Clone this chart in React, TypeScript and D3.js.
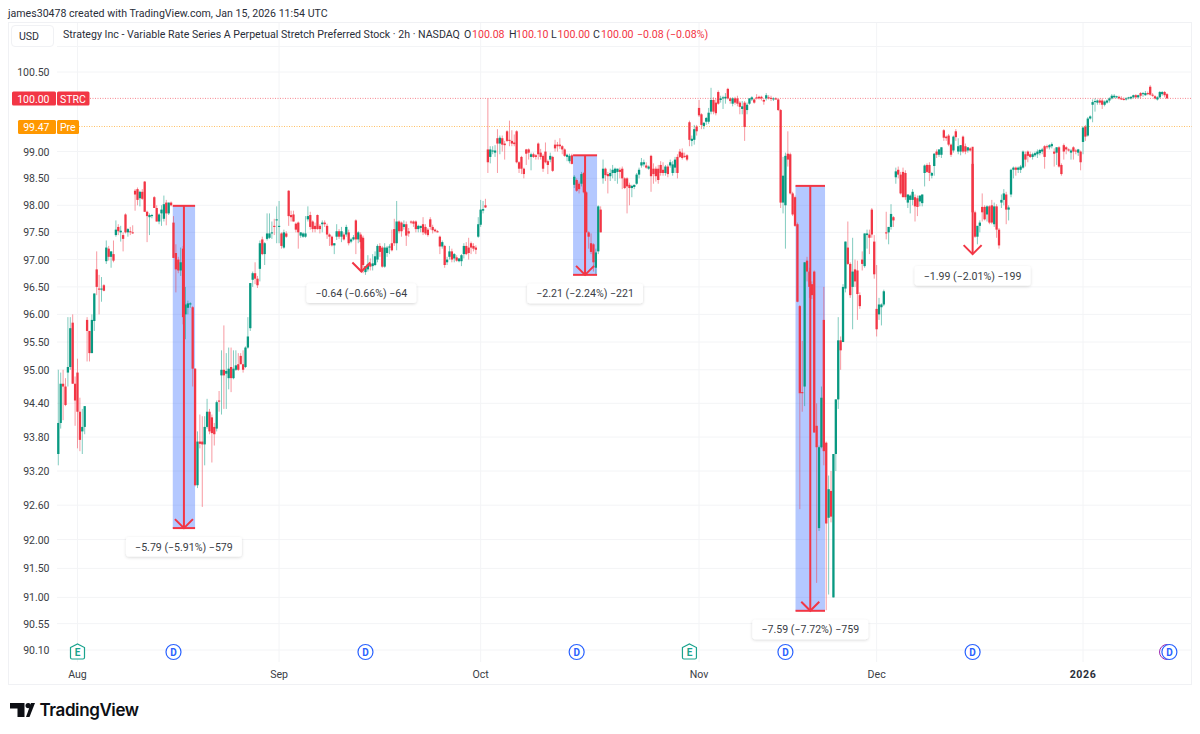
import React from 'react'
import * as d3 from 'd3'

// rows: [bar slot, open, high, low, close] - 2h bars
const augBars = [
  [0,93.5,95,93.3,94.05],[1,94.05,94.95,93.95,94.75],[2,94.75,95,94.1,94.7],[3,94.7,94.85,94.35,94.37],[4,94.95,95.95,94.7,95.05],[5,95.05,95.95,95,95.75],[6,95.85,96,94.75,94.75],[7,94.75,94.88,94,94.45],[8,94.95,95.2,93.6,94.25],[9,94.25,94.5,93.55,93.75],[10,93.9,94.3,93.5,93.98],[11,93.98,94.35,93.85,94.35],
  [12,95.9,95.95,95.15,95.7],[13,95.7,95.7,95.15,95.3],[14,95.3,96,95.3,95.9],[15,95.88,96.38,95.7,96.38],[16,96.82,97.15,96.35,96.5],[17,96.47,96.72,96,96.45],[18,96.45,96.68,96.23,96.47],[19,96.53,96.55,96.42,96.43],[20,96.97,97.35,96.92,97.22],[21,97.2,97.25,96.98,97.05],[22,97.05,97.15,96.85,97.15],[23,97.1,97.35,96.95,96.98],
  [24,97.45,97.72,97.42,97.55],[25,97.6,97.65,97.45,97.52],[26,97.5,97.62,97.33,97.53],[27,97.45,97.5,97.15,97.38],[28,97.83,97.85,97.48,97.5],[29,97.5,97.58,97.42,97.56],[30,97.52,97.6,97.45,97.5],[31,97.5,97.63,97.47,97.49],[32,98.27,98.3,97.9,98.2],[33,98.3,98.33,98,98.1],[34,98.13,98.27,97.98,98.25],[35,98.25,98.3,98.1,98.12],
  [36,98.44,98.45,97.88,97.88],[37,97.88,97.9,97.32,97.8],[38,97.78,97.85,97.45,97.82],[39,97.8,97.84,97.76,97.82],[40,98.15,98.17,97.95,97.95],[41,97.95,98,97.7,97.7],[42,97.7,97.85,97.65,97.83],[43,97.85,98,97.62,97.92],[44,97.75,98.18,97.7,98.02],[45,98.05,98.1,97.63,97.85],[46,97.85,98.05,97.82,98.05],[47,98.05,98.07,97.98,98],
  [48,97.68,97.8,97.03,97.03],[49,97.12,97.28,96.4,96.82],[50,97,97.05,96.75,96.8],[51,96.8,97.22,96.7,96.95],[52,97.2,97.25,95.82,95.95],[53,96,96.5,95.55,96.18],[54,96.12,96.25,96,96.2],[55,96.18,96.22,96.12,96.2],[56,96.13,96.15,94.7,95.02],[57,95.02,95.03,92.93,92.95],[58,92.95,93.9,92.9,93.72],[59,93.72,94.2,93.6,93.68],[60,93.72,94.17,92.57,93.67],
  [61,93.67,94.17,93.3,93.98],[62,93.98,94.48,93.95,94.25],[63,94.25,94.3,93.85,93.9],[64,94.15,94.2,93.35,93.87],[65,93.98,94.05,93.65,93.85],[66,93.95,94.45,93.9,94.42],[67,94.45,94.62,94.25,94.43],[68,94.9,95.35,94.2,95],[69,95,95.8,94.3,94.9],[70,94.93,95.3,94.3,94.98],[71,94.85,95.4,94.65,95.02],[72,95.05,95.4,94.6,94.85],
  [73,94.85,95.35,94.83,95.02],[74,95,95.35,94.98,95.08],[75,95.1,95.3,94.98,95],[76,95.25,95.3,95.1,95.1],[77,95.1,95.35,94.95,95],[78,95.05,95.42,95.03,95.4],[79,95.4,95.95,95.38,95.6],[80,95.75,96.57,95.7,96.57],[81,96.63,96.78,96.5,96.75],[82,96.75,96.95,96.55,96.65],[83,96.65,96.7,96.48,96.53],
  [84,96.83,97.35,96.6,97.3],[85,97.37,97.42,97.08,97.1],[86,97.1,97.32,96.9,97.3],[87,97.38,97.85,97.35,97.48],[88,97.4,97.85,97.38,97.48],[89,97.48,97.7,97.38,97.5],[90,97.62,97.75,97.45,97.6],[91,97.72,97.98,97.3,97.74],
]
const sepBars = [
  [92,97.6,98.08,97.3,97.62],[93,97.48,97.5,97.2,97.25],[94,97.22,97.55,97.2,97.5],[95,97.48,97.52,97.4,97.42],[96,98.27,98.28,97.62,97.8],[97,97.82,97.9,97.7,97.78],[98,97.83,97.9,97.7,97.7],[99,97.66,97.68,97.5,97.55],[100,97.68,97.7,97.2,97.5],[101,97.44,97.5,97.4,97.5],[102,97.42,97.5,97.4,97.48],[103,97.42,97.8,97.4,97.48],
  [104,97.74,97.98,97.7,97.8],[105,97.82,97.88,97.55,97.6],[106,97.7,97.72,97.5,97.56],[107,97.62,97.68,97.5,97.56],[108,97.82,97.83,97.55,97.56],[109,97.62,97.65,97.48,97.56],[110,97.65,97.72,97.5,97.68],[111,97.68,97.72,97.6,97.65],[112,97.62,97.66,97.38,97.46],[113,97.46,97.48,97.25,97.42],[114,97.42,97.44,97.24,97.26],[115,97.26,97.3,97.1,97.3],
  [116,97.42,97.65,97.36,97.52],[117,97.52,97.56,97.38,97.42],[118,97.42,97.6,97.32,97.52],[119,97.46,97.5,97.35,97.37],[120,97.46,97.64,97.42,97.6],[121,97.5,97.55,97.26,97.3],[122,97.33,97.4,97.3,97.37],[123,97.37,97.45,97.35,97.41],[124,97.72,97.74,97.1,97.37],[125,97.37,97.52,97.3,97.5],[126,97.46,97.5,97.2,97.32],[127,97.4,97.44,96.75,96.9],
  [128,96.77,96.88,96.72,96.88],[129,96.82,97.08,96.78,96.92],[130,96.92,97.02,96.8,96.87],[131,96.88,97.1,96.8,96.93],[132,96.9,97.15,96.88,97.06],[133,97,97.28,96.95,97.25],[134,97.25,97.3,97.05,97.14],[135,97.22,97.25,96.85,96.87],[136,96.87,97.3,96.85,97.22],[137,97.12,97.25,97.05,97.22],[138,97.22,97.28,97.1,97.24],[139,97.3,97.55,97.15,97.17],
  [140,97.56,97.75,97.25,97.3],[141,97.3,98.08,97.17,97.7],[142,97.7,97.72,97.48,97.52],[143,97.68,97.7,97.42,97.52],[144,97.6,97.72,97.55,97.65],[145,97.65,97.7,97.25,97.44],[146,97.52,97.58,97.42,97.48],[147,97.7,97.72,97.65,97.68],[148,97.7,97.72,97.6,97.66],[149,97.7,97.72,97.5,97.56],[150,97.56,97.64,97.5,97.62],[151,97.58,97.62,97.5,97.62],
  [152,97.65,97.78,97.45,97.5],[153,97.6,97.65,97.45,97.48],[154,97.55,97.58,97.42,97.45],[155,97.74,97.78,97.55,97.6],[156,97.6,97.64,97.48,97.54],[157,97.55,97.57,97.5,97.52],[158,97.52,97.54,97.5,97.5],[159,97.42,97.44,97.1,97.24],[160,97.24,97.35,97.2,97.32],[161,97.25,97.27,96.85,96.9],[162,96.95,97.05,96.9,97],[163,97.05,97.25,97,97.15],
  [164,97.15,97.2,96.95,97],[165,97.02,97.12,96.95,97.1],[166,97.04,97.08,96.96,96.98],[167,96.97,97.03,96.95,97.02],[168,96.97,97.1,96.88,97.08],[169,97.1,97.3,97.02,97.25],[170,97.25,97.32,97.08,97.1],[171,97.22,97.4,97,97.12],[172,97.3,97.33,97.1,97.22],[173,97.25,97.3,97.15,97.2],[174,97.22,97.26,97.1,97.18],[175,97.42,97.78,97.4,97.65],
]
const octBars = [
  [176,97.64,98.1,97.6,97.92],[177,97.9,98.08,97.85,97.93],[178,98,98.12,97.95,97.96],[179,99.04,100,98.6,98.8],[180,98.9,99.1,98.78,99.04],[181,99,99.1,98.95,99.02],[182,98.98,99.12,98.9,99.02],[183,99.25,99.42,98.6,99.15],[184,99.15,99.3,98.95,99.26],[185,99.25,99.3,99,99.13],[186,99.15,99.2,98.85,99.12],[187,99.38,99.4,99.18,99.2],
  [188,99.22,99.58,99.1,99.2],[189,99.2,99.4,99.1,99.15],[190,99.17,99.32,99.1,99.14],[191,99.38,99.4,98.78,98.8],[192,98.8,98.82,98.6,98.68],[193,98.9,98.92,98.58,98.68],[194,98.68,98.7,98.5,98.58],[195,99.04,99.05,98.75,98.96],[196,99.04,99.06,98.85,98.98],[197,98.9,98.98,98.65,98.95],[198,98.95,98.98,98.88,98.9],[199,98.93,98.95,98.85,98.9],
  [200,99.15,99.17,98.85,98.95],[201,98.98,99.05,98.85,98.9],[202,98.92,98.95,98.62,98.68],[203,99,99.17,98.78,98.8],[204,98.82,98.85,98.58,98.75],[205,98.85,98.98,98.8,98.92],[206,98.9,98.92,98.62,98.64],[207,99.13,99.22,99,99.06],[208,99.13,99.18,99,99.1],[209,99.13,99.25,99.05,99.1],[210,99.1,99.12,98.95,99.04],[211,99.04,99.06,98.9,98.92],
  [212,98.9,98.96,98.82,98.94],[213,98.82,98.96,98.78,98.92],[214,98.93,98.96,98.76,98.77],[215,98.38,98.56,98.32,98.53],[216,98.47,98.5,98.25,98.27],[217,98.4,98.44,98.22,98.3],[218,98.4,98.62,98.35,98.58],[219,98.6,98.62,98.22,98.24],[220,98.24,98.26,97.5,97.5],[221,97.5,97.52,97.2,97.42],[222,97.3,97.48,97.1,97.14],[223,97.28,97.3,96.78,96.95],
  [224,96.85,97.2,96.72,97.13],[225,97.15,98,97.1,97.98],[226,97.92,97.98,97.5,97.5],[227,98.5,98.85,98.4,98.68],[228,98.68,98.7,98.45,98.56],[229,98.58,98.62,98.22,98.54],[230,98.54,98.68,98.45,98.6],[231,98.6,98.75,98.5,98.66],[232,98.6,98.7,98.45,98.68],[233,98.62,98.68,98.4,98.68],[234,98.66,98.7,98.5,98.62],[235,98.68,98.72,98.3,98.5],
  [236,98.5,98.52,98.3,98.32],[237,98.5,98.52,97.85,98.35],[238,98.38,98.42,98,98.32],[239,98.32,98.38,98.15,98.36],[240,98.34,98.38,98.3,98.38],[241,98.4,98.6,98.38,98.57],[242,98.57,98.7,98.5,98.66],[243,98.74,98.88,98.7,98.8],[244,98.76,98.85,98.72,98.8],[245,98.74,98.8,98.68,98.7],[246,98.68,98.74,98.66,98.72],[247,98.92,98.94,98.25,98.54],
  [248,98.68,98.78,98.4,98.58],[249,98.68,98.72,98.44,98.54],[250,98.68,98.75,98.4,98.47],[251,98.75,98.82,98.55,98.6],[252,98.66,98.8,98.55,98.6],[253,98.6,98.75,98.55,98.72],[254,98.72,98.76,98.52,98.58],[255,98.74,98.85,98.7,98.8],[256,98.6,98.82,98.55,98.76],[257,98.7,98.9,98.6,98.85],[258,98.9,98.95,98.5,98.6],[259,99,99.05,98.88,98.9],
  [260,98.98,99.06,98.85,98.88],[261,98.92,98.98,98.88,98.9],[262,98.93,98.95,98.82,98.85],[263,99.55,99.58,99.1,99.22],[264,99.2,99.3,99.1,99.24],[265,99.22,99.5,99.13,99.42],[266,99.47,99.5,99.3,99.38],
]
const novBars = [
  [267,99.82,99.97,99.65,99.68],[268,99.7,99.72,99.42,99.5],[269,99.48,99.55,99.42,99.54],[270,99.56,99.65,99.5,99.63],[271,99.56,99.82,99.52,99.73],[272,99.75,100.2,99.7,99.97],[273,99.97,100.02,99.7,99.75],[274,99.92,100,99.68,99.72],[275,100.12,100.15,99.88,99.9],[276,99.97,100.05,99.92,100],[277,100,100.05,99.8,100.02],[278,100,100.1,99.9,100.03],
  [279,100.18,100.2,99.98,100],[280,100,100.02,99.9,99.95],[281,99.9,100.02,99.85,100],[282,100,100.03,99.88,99.92],[283,100,100.05,99.85,99.9],[284,99.92,99.95,99.7,99.84],[285,99.8,99.95,99.7,99.85],[286,99.92,99.95,99.2,99.46],[287,99.78,99.92,99.7,99.88],[288,99.9,100,99.88,100],[289,99.98,100.04,99.95,100.02],[290,99.98,100,99.9,99.92],
  [291,100.02,100.08,99.98,100],[292,100.03,100.05,99.98,100],[293,100.03,100.05,99.96,100],[294,99.97,100,99.88,99.94],[295,100,100.1,99.96,100.06],[296,100.02,100.06,99.98,100],[297,100.01,100.05,99.95,99.99],[298,99.98,100.02,99.95,100],[299,100,100.02,99.97,99.98],[300,99.98,100,99.76,99.78],[301,99.78,99.8,97.95,98.05],[302,98.05,98.9,97.85,98.55],
  [303,98,98.98,97.2,98.92],[304,98.96,99.38,98.72,98.85],[305,98.95,98.98,98.2,98.22],[306,98.22,98.25,97.8,97.83],[307,98.15,98.18,97.6,97.62],[308,97.65,97.68,96.22,96.23],[309,96.15,96.17,92.53,94.58],[310,94.6,95.52,94.25,94.58],[311,94.7,96.95,94.35,96.95],[312,96.98,97.05,96.6,96.78],[313,96.78,96.85,96.3,96.5],[314,96.55,96.6,96.28,96.35],
  [315,96.78,96.8,93.88,93.88],[316,94,94.4,91.25,93.62],[317,92.2,93.65,92.15,93.62],[318,93.62,94.7,93.6,94.5],[319,95.9,96.5,93.3,93.55],[320,93.7,93.72,90.78,92.28],[321,92.38,93.12,91.05,92.88],[322,92.85,93.2,92.3,92.4],[323,91,93.5,91,93.5],[324,93.5,94.47,93.2,94.47],[325,94.47,95.95,94.3,95.53],[326,95.53,95.6,95,95.35],
  [327,95.5,96.55,95.5,96.5],[328,96.47,97.33,96.4,97.33],[329,97.22,97.7,96.9,96.92],[330,96.92,96.95,96.3,96.35],[331,96.5,97.4,95.73,96.78],[332,96.82,97,96.5,96.6],[333,96.8,96.98,95.9,96.37],[334,96.35,96.4,96.1,96.15],[335,97,97.15,96.8,96.92],[336,96.88,97.48,96.85,97.48],[337,97.45,97.55,97.2,97.48],[338,97.46,97.55,97.1,97.4],[339,97.92,97.95,97.4,97.46],[340,97.33,97.45,96.65,96.73],
]
const decBars = [
  [341,96.1,96.9,95.6,95.73],[342,96,96.3,95.9,96.18],[343,96.13,96.2,95.8,96.18],[344,96.18,96.45,96.15,96.42],[345,97.5,97.88,97.37,97.48],[346,97.5,97.6,97.28,97.6],[347,97.6,98.02,97.55,97.84],[348,97.78,97.8,97.6,97.72],[349,98.52,98.7,98.4,98.63],[350,98.66,98.72,98.5,98.57],[351,98.57,98.62,98.2,98.22],[352,98.62,98.7,98.15,98.15],
  [353,98.6,98.65,98.1,98.15],[354,98.05,98.2,97.95,98.2],[355,98.1,98.2,97.85,98.18],[356,98.1,98.3,98,98.25],[357,98.15,98.2,97.7,97.98],[358,98.13,98.18,97.8,97.97],[359,98.07,98.18,97.98,98.18],[360,98.04,98.2,97.98,98.2],[361,98.6,98.76,98.35,98.74],[362,98.75,98.78,98.6,98.62],[363,98.75,98.8,98.45,98.6],[364,98.55,98.62,98.5,98.6],
  [365,98.73,98.97,98.55,98.96],[366,99,99.04,98.88,98.94],[367,98.94,99.04,98.9,99.04],[368,98.94,99.08,98.88,99.08],[369,99.4,99.42,99.2,99.26],[370,99.28,99.3,99.2,99.25],[371,99.3,99.33,99.1,99.13],[372,99.13,99.15,98.9,98.94],[373,99.02,99.3,98.98,99.28],[374,99.38,99.42,99.2,99.27],[375,99,99.25,98.95,99.1],[376,99,99.12,98.93,99.12],
  [377,99.28,99.3,98.97,99],[378,99.1,99.15,98.95,99],[379,99.02,99.08,98.98,99.08],[380,99.06,99.08,99,99.02],[381,98.77,98.8,97.85,97.87],[382,97.87,97.9,97.4,97.42],[383,97.42,97.62,97.28,97.62],[384,97.62,97.72,97.5,97.68],[385,97.97,98.22,97.7,97.87],[386,97.97,98,97.72,97.74],[387,97.83,98,97.7,97.98],[388,97.98,98,97.65,97.68],
  [389,98,98.1,97.65,97.68],[390,97.65,98.05,97.6,97.98],[391,97.98,98.02,97.4,97.55],[392,97.55,97.58,97.2,97.26],[393,98.05,98.2,97.95,98.1],[394,98.1,98.3,98,98.22],[395,98.2,98.25,97.65,97.92],[396,97.92,98,97.72,97.96],[397,98.2,98.68,98.15,98.66],[398,98.66,98.72,98.5,98.7],[399,98.7,98.72,98.55,98.66],[400,98.66,98.72,98.6,98.7],
  [401,98.66,98.75,98.6,98.72],[402,98.7,99.02,98.68,99],[403,98.95,99,98.72,98.85],[404,99,99.02,98.8,98.92],[405,98.95,99,98.88,98.9],[406,98.9,98.98,98.85,98.95],[407,98.93,99,98.9,98.97],[408,98.95,99.04,98.88,99],[409,98.97,99.05,98.93,99.03],[410,99,99.07,98.95,99.04],[411,99.1,99.12,98.68,98.9],[412,99.1,99.13,99.05,99.08],
  [413,99.08,99.14,99.04,99.12],[414,99.1,99.17,99.06,99.14],[415,99,99.06,98.72,98.96],[416,98.98,99.08,98.75,99.08],[417,99.08,99.1,98.7,98.72],[418,98.75,98.78,98.55,98.58],[419,99.12,99.15,98.85,99],[420,99.08,99.1,98.95,99.04],[421,99.04,99.06,99,99.02],[422,98.98,99.05,98.85,99.02],[423,99.08,99.1,98.85,99],[424,99.02,99.05,98.95,99],[425,98.98,99.05,98.92,99.04],[426,99,99.02,98.65,98.8],
]
const janBars = [
  [427,99.18,99.47,98.95,99.45],[428,99.47,99.5,99.2,99.28],[429,99.3,99.65,99.28,99.62],[430,99.62,99.68,99.6,99.66],[431,99.88,99.98,99.55,99.93],[432,99.93,100,99.75,99.95],[433,99.92,99.98,99.88,99.96],[434,99.96,100,99.88,99.92],[435,99.96,100,99.8,99.88],[436,99.88,99.96,99.85,99.94],[437,99.92,99.98,99.9,99.96],[438,99.96,100.02,99.92,100],
  [439,100,100.08,99.98,100.05],[440,100.02,100.08,100,100.05],[441,100.02,100.05,100,100.04],[442,100.03,100.05,99.98,100],[443,100,100.04,99.97,99.98],[444,99.99,100.02,99.96,99.98],[445,99.98,100.02,99.96,100],[446,100,100.03,99.98,100.02],[447,100,100.04,99.98,100.03],[448,100.02,100.07,100,100.06],[449,100.06,100.08,100,100.02],[450,100.02,100.07,100,100.06],
  [451,100.1,100.12,100,100.05],[452,100.08,100.12,100.03,100.1],[453,100.06,100.14,100.05,100.1],[454,100.1,100.13,100.06,100.08],[455,100.22,100.25,100.05,100.07],[456,100.07,100.1,100.03,100.05],[457,100.04,100.06,99.98,100],[458,99.98,100.04,99.96,100.02],[459,100.02,100.14,100,100.12],[460,100.08,100.14,100.05,100.12],[461,100.12,100.14,100.02,100.06],[462,100.08,100.1,100,100],
]

const priceTicks = [100.5, 99, 98.5, 98, 97.5, 97, 96.5, 96, 95.5, 95, 94.4, 93.8, 93.2, 92.6, 92, 91.5, 91, 90.55, 90.1]
const monthSlots = [8, 92, 176, 267, 341, 427]
const monthLabels = ['Aug', 'Sep', 'Oct', 'Nov', 'Dec', '2026']
const dividendSlots = [48, 128, 216, 303, 381, 463]
const earningsSlots = [8, 263]
// from slot, to slot, from price, to price, label
const measureFrom = [47.7, 126.3, 214.5, 307.2, 381]
const measureTo = [57, 126.3, 224.5, 319.5, 381]
const measureStart = [97.99, 97.42, 98.93, 98.36, 99.09]
const measureEnd = [92.2, 96.78, 96.72, 90.77, 97.1]
const measureLabels = ['−5.79 (−5.91%) −579', '−0.64 (−0.66%) −64', '−2.21 (−2.24%) −221', '−7.59 (−7.72%) −759', '−1.99 (−2.01%) −199']
const ohlcKeys = ['O', 'H', 'L', 'C']
const ohlcValues = ['100.08', '100.10', '100.00', '100.00']
const ohlcKeyX = [464, 509, 551, 593]
const ohlcValueX = [472, 516, 557.5, 601]

const UP = '#089981'
const DOWN = '#F23645'
const ORANGE = '#FF9800'
const GRID = '#f3f4f6'
const TEXT = '#3a3d45'
const DARK = '#2a2e39'
const FONT = "Roboto, 'Noto Sans', sans-serif"

const bars = [...augBars, ...sepBars, ...octBars, ...novBars, ...decBars, ...janBars]

export default function App() {
  const x = d3.scaleLinear().domain([0, 462]).range([58.3, 1167])
  const y = d3.scaleLog().domain([90.1, 100.5]).range([650, 72])

  return (
    <svg
      width={1200}
      height={734}
      viewBox="0 0 1200 734"
      style={{ position: 'absolute', left: 0, top: 0, background: '#fff', fontFamily: FONT }}
    >
      <defs>
        <filter id="labelShadow" x="-10%" y="-30%" width="120%" height="170%">
          <feDropShadow dx="0" dy="1" stdDeviation="1.5" floodColor="#000" floodOpacity="0.16" />
        </filter>
      </defs>

      <text x={8} y={17} fontSize={10.6} fill={DARK}>james30478 created with TradingView.com, Jan 15, 2026 11:54 UTC</text>
      <rect x={8.5} y={22.5} width={1183} height={662} fill="none" stroke="#f0f1f4" />

      {/* grid */}
      <line x1={57} x2={1192} y1={46.5} y2={46.5} stroke={GRID} />
      {priceTicks.map((p) => (
        <line key={p} x1={57} x2={1192} y1={y(p)} y2={y(p)} stroke={GRID} />
      ))}
      {monthSlots.map((s) => (
        <line key={s} x1={x(s)} x2={x(s)} y1={23} y2={662} stroke={GRID} />
      ))}

      {/* measure fills sit under the candles */}
      {measureFrom.map((from, i) => measureTo[i] > from && (
        <rect
          key={i}
          x={x(from)}
          width={x(measureTo[i]) - x(from)}
          y={y(measureStart[i])}
          height={y(measureEnd[i]) - y(measureStart[i])}
          fill="#2962FF"
          fillOpacity={0.35}
        />
      ))}

      {/* last price and pre-market lines */}
      <line x1={90} x2={1192} y1={y(100)} y2={y(100)} stroke={DOWN} strokeOpacity={0.6} strokeDasharray="1 1.5" />
      <line x1={79} x2={1192} y1={y(99.47)} y2={y(99.47)} stroke={ORANGE} strokeOpacity={0.6} strokeDasharray="1 1.5" />

      {/* candles */}
      {bars.map(([slot, open, high, low, close]) => {
        const color = close >= open ? UP : DOWN
        const top = y(Math.max(open, close))
        const bottom = y(Math.min(open, close))
        return (
          <g key={slot}>
            <line x1={x(slot)} x2={x(slot)} y1={y(high)} y2={y(low)} stroke={color} strokeOpacity={0.5} />
            <rect x={x(slot) - 1.15} width={2.3} y={top} height={Math.max(bottom - top, 1)} fill={color} />
          </g>
        )
      })}

      {/* measure arrows and labels */}
      {measureFrom.map((from, i) => {
        const to = measureTo[i]
        const mid = (x(from) + x(to)) / 2
        const y0 = y(measureStart[i])
        const y1 = y(measureEnd[i])
        const w = measureLabels[i].length * 6.1
        const gap = to > from ? 9 : 12
        return (
          <g key={i}>
            {to > from && (
              <>
                <line x1={x(from)} x2={x(to)} y1={y0} y2={y0} stroke={DOWN} strokeWidth={2} />
                <line x1={x(from)} x2={x(to)} y1={y1} y2={y1} stroke={DOWN} strokeWidth={2} />
              </>
            )}
            <line x1={mid} x2={mid} y1={y0} y2={y1} stroke={DOWN} strokeWidth={2} />
            <path d={`M${mid - 9},${y1 - 9}L${mid},${y1}L${mid + 9},${y1 - 9}`} fill="none" stroke={DOWN} strokeWidth={2} />
            <g filter="url(#labelShadow)">
              <rect x={mid - w / 2} y={y1 + gap} width={w} height={19.5} rx={3} fill="#fff" />
            </g>
            <text x={mid} y={y1 + gap + 13.6} textAnchor="middle" fontSize={10.6} fill={TEXT}>{measureLabels[i]}</text>
          </g>
        )
      })}

      {/* price axis */}
      {priceTicks.map((p) => (
        <text key={p} x={49.5} y={y(p) + 4} textAnchor="end" fontSize={10.5} fill={TEXT}>{d3.format('.2f')(p)}</text>
      ))}
      <rect x={12} y={91.5} width={44} height={14} rx={1.5} fill={DOWN} />
      <rect x={57} y={91.5} width={32.5} height={14} rx={1.5} fill={DOWN} />
      <text x={49.5} y={102.5} textAnchor="end" fontSize={10.5} fill="#fff">100.00</text>
      <text x={60} y={102.5} fontSize={10.5} fill="#fff">STRC</text>
      <rect x={18} y={120} width={38} height={14} rx={1.5} fill={ORANGE} />
      <rect x={57} y={120} width={22} height={14} rx={1.5} fill={ORANGE} />
      <text x={49.5} y={131} textAnchor="end" fontSize={10.5} fill="#fff">99.47</text>
      <text x={60} y={131} fontSize={10.5} fill="#fff">Pre</text>

      {/* header */}
      <rect x={11.5} y={25.5} width={42} height={21} rx={3.5} fill="#fff" stroke="#f0f1f4" />
      <text x={29} y={39.5} textAnchor="middle" fontSize={10.6} fill={DARK}>USD</text>
      <text x={63} y={38.3} fontSize={10.6} fill={DARK}>Strategy Inc - Variable Rate Series A Perpetual Stretch Preferred Stock · 2h · NASDAQ</text>
      {ohlcKeys.map((k, i) => (
        <g key={k}>
          <text x={ohlcKeyX[i]} y={38.3} fontSize={10.6} fill={DARK}>{k}</text>
          <text x={ohlcValueX[i]} y={38.3} fontSize={10.6} fill={DOWN}>{ohlcValues[i]}</text>
        </g>
      ))}
      <text x={637} y={38.3} fontSize={10.6} fill={DOWN}>−0.08 (−0.08%)</text>

      {/* events */}
      <circle cx={x(462)} cy={652} r={7.5} fill="#fff" stroke="#9c27b0" />
      {dividendSlots.map((s) => (
        <g key={s}>
          <circle cx={x(s)} cy={652} r={7.5} fill="#fff" stroke="#2962FF" strokeWidth={1.2} />
          <text x={x(s)} y={655.7} textAnchor="middle" fontSize={10} fontWeight={700} fill="#2962FF">D</text>
        </g>
      ))}
      {earningsSlots.map((s) => (
        <g key={s}>
          <path
            d={`M${x(s) - 7},647.5L${x(s)},644L${x(s) + 7},647.5V657.5Q${x(s) + 7},659 ${x(s) + 5.5},659H${x(s) - 5.5}Q${x(s) - 7},659 ${x(s) - 7},657.5Z`}
            fill="#fff"
            stroke="#1aa38d"
            strokeWidth={1.2}
          />
          <text x={x(s)} y={655.7} textAnchor="middle" fontSize={10} fontWeight={700} fill="#1aa38d">E</text>
        </g>
      ))}

      {/* time axis */}
      {monthSlots.map((s, i) => (
        <text
          key={s}
          x={x(s)}
          y={678}
          textAnchor="middle"
          fontSize={10.6}
          fontWeight={monthLabels[i] === '2026' ? 700 : 400}
          letterSpacing={monthLabels[i] === '2026' ? 0.6 : 0}
          fill={monthLabels[i] === '2026' ? DARK : TEXT}
        >
          {monthLabels[i]}
        </text>
      ))}

      {/* brand */}
      <path d="M10,703H24.5V717H17.5V708.5H10Z" fill="#0d0f14" />
      <circle cx={28.2} cy={705.6} r={2.7} fill="#0d0f14" />
      <path d="M26,717L31,703H35L29.5,717Z" fill="#0d0f14" />
      <text x={39.5} y={716} fontSize={17} fontWeight={600} fill="#0d0f14" letterSpacing={-0.4} style={{ fontFamily: "Inter, 'Noto Sans', sans-serif" }}>TradingView</text>
    </svg>
  )
}
